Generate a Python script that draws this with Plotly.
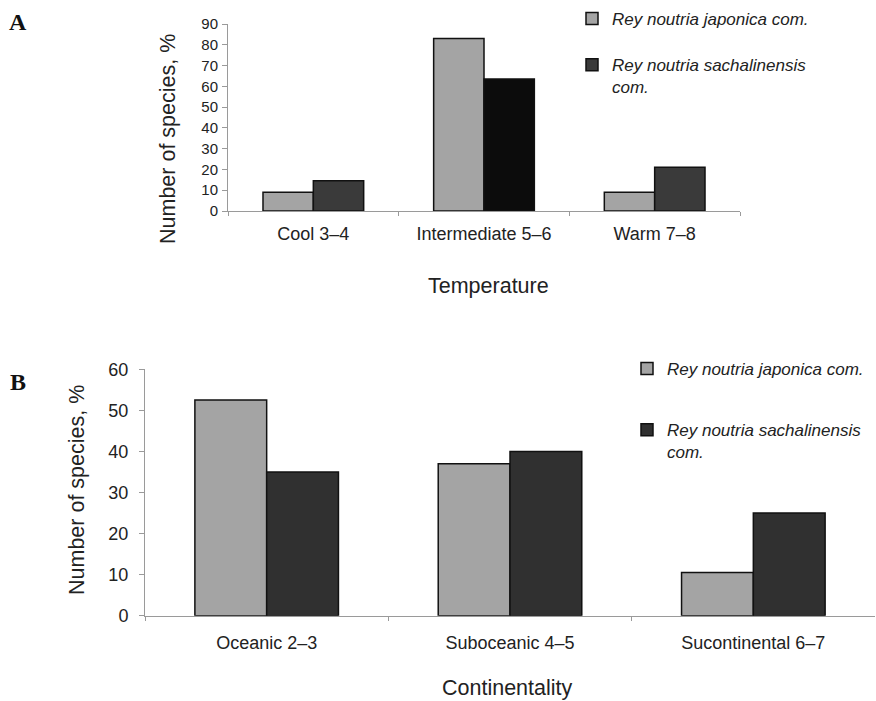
import plotly.graph_objects as go

# ---- data ----
temp_categories = ["Cool 3\u20134", "Intermediate 5\u20136", "Warm 7\u20138"]
temp_japonica = [9, 83, 9]
temp_sachalinensis = [14.5, 63.5, 21]

cont_categories = ["Oceanic 2\u20133", "Suboceanic 4\u20135", "Sucontinental 6\u20137"]
cont_japonica = [52.5, 37, 10.5]
cont_sachalinensis = [35, 40, 25]

series_names = ["<i>Rey noutria japonica com.</i>",
                "<i>Rey noutria sachalinensis<br>com.</i>"]

yticks_a = [0, 10, 20, 30, 40, 50, 60, 70, 80, 90]
yticks_b = [0, 10, 20, 30, 40, 50, 60]

W, H = 876, 701
FONT = "Liberation Sans, Arial, Helvetica, sans-serif"
GRAY = "#a4a4a4"
DARK = "#3a3a3a"
BLACK = "#0c0c0c"
AXIS = "#9a9a9a"


def px(x):
    return x / W


def py(y):
    return 1 - y / H


fig = go.Figure()

fig.add_trace(go.Bar(x=temp_categories, y=temp_japonica, name=series_names[0],
                     marker=dict(color=GRAY, line=dict(color="#111", width=1.5)),
                     xaxis="x", yaxis="y", legend="legend", legendgroup="a1"))
fig.add_trace(go.Bar(x=temp_categories, y=temp_sachalinensis, name=series_names[1],
                     marker=dict(color=[DARK, BLACK, DARK], line=dict(color="#111", width=1.5)),
                     xaxis="x", yaxis="y", legend="legend", legendgroup="a2"))
fig.add_trace(go.Bar(x=cont_categories, y=cont_japonica, name=series_names[0],
                     marker=dict(color=GRAY, line=dict(color="#111", width=1.5)),
                     xaxis="x2", yaxis="y2", legend="legend2", legendgroup="b1"))
fig.add_trace(go.Bar(x=cont_categories, y=cont_sachalinensis, name=series_names[1],
                     marker=dict(color="#303030", line=dict(color="#111", width=1.5)),
                     xaxis="x2", yaxis="y2", legend="legend2", legendgroup="b2"))

common_y = dict(showgrid=False, zeroline=False, showline=True, linecolor=AXIS, linewidth=1,
                ticks="outside", ticklen=5, tickcolor=AXIS, dtick=10, automargin=False)
common_x = dict(type="category", showgrid=False, zeroline=False, showline=True, linecolor=AXIS,
                linewidth=1, ticks="outside", ticklen=4, tickcolor=AXIS, tickson="boundaries",
                automargin=False, tickfont=dict(family=FONT, color="#222", size=18))

legend_common = dict(font=dict(family=FONT, size=17, color="#222"), bgcolor="rgba(0,0,0,0)",
                     traceorder="grouped", valign="top", xanchor="left", yanchor="top",
                     itemclick=False)

fig.update_layout(
    width=W, height=H, autosize=False,
    margin=dict(l=0, r=0, t=0, b=0, pad=0, autoexpand=False),
    paper_bgcolor="white", plot_bgcolor="white",
    barmode="group", bargap=0.41, bargroupgap=0,
    xaxis=dict(domain=[px(228), px(740)], anchor="y", ticklabelstandoff=6, **common_x),
    yaxis=dict(domain=[py(211), py(24)], anchor="x", range=[0, 90], tickvals=yticks_a,
               ticklabelstandoff=1,
               tickfont=dict(family=FONT, color="#222", size=15), **common_y),
    xaxis2=dict(domain=[px(145), px(875)], anchor="y2", ticklabelstandoff=11, **common_x),
    yaxis2=dict(domain=[py(615.7), py(369.3)], anchor="x2", range=[0, 60], tickvals=yticks_b,
                ticklabelstandoff=7,
                tickfont=dict(family=FONT, color="#222", size=18), **common_y),
    legend=dict(x=px(572), y=py(1), tracegroupgap=21, **legend_common),
    legend2=dict(x=px(627), y=py(351), tracegroupgap=36, **legend_common),
    showlegend=True,
)

ann_font = dict(family=FONT, size=21.5, color="#222")
serif = dict(family="Liberation Serif, Times New Roman, serif", size=24, color="#111")
annotations = [
    dict(text="<b>A</b>", x=px(18), y=py(22), font=serif),
    dict(text="<b>B</b>", x=px(18), y=py(382), font=serif),
    dict(text="Number of species, %", x=px(168), y=py(139), textangle=-90, font=ann_font),
    dict(text="Number of species, %", x=px(77), y=py(490), textangle=-90, font=ann_font),
    dict(text="Temperature", x=px(488), y=py(286), font=ann_font),
    dict(text="Continentality", x=px(507), y=py(688), font=ann_font),
]
for a in annotations:
    a.update(xref="paper", yref="paper", showarrow=False, xanchor="center", yanchor="middle")
fig.update_layout(annotations=annotations)

fig.write_html("out.html")
